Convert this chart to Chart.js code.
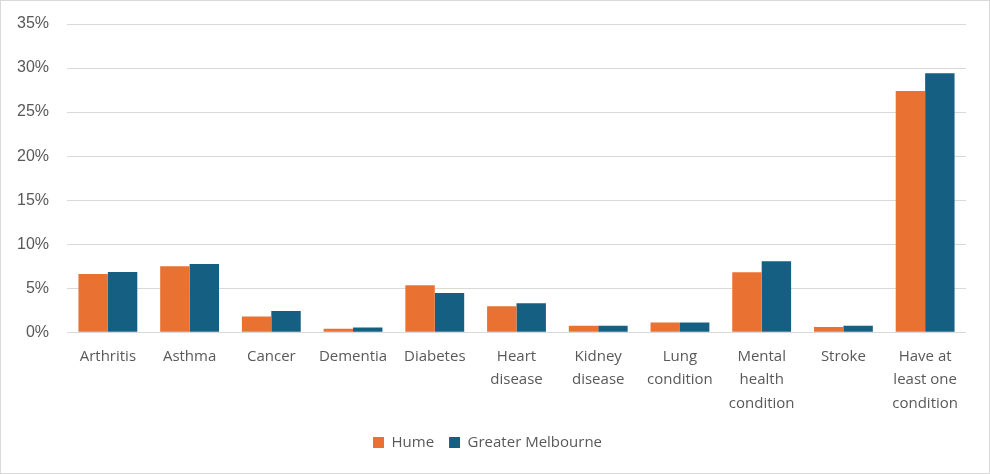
<!DOCTYPE html>
<html>
<head>
<meta charset="utf-8">
<script src="https://cdn.jsdelivr.net/npm/chart.js@4.4.0/dist/chart.umd.min.js"></script>
<style>
  html, body { margin: 0; padding: 0; background: #fff; }
  #wrap { width: 990px; height: 474px; box-sizing: border-box; border: 1px solid #d9d9d9; position: relative; }
  #chart { display: block; }
</style>
</head>
<body>
<div id="wrap"><canvas id="chart" width="988" height="472"></canvas></div>
<script>
// chronic conditions, share of population
var categories = [
    "Arthritis", "Asthma", "Cancer", "Dementia", "Diabetes",
    ["Heart", "disease"], ["Kidney", "disease"], ["Lung", "condition"],
    ["Mental", "health", "condition"], "Stroke", ["Have at", "least one", "condition"]
];
var hume = [6.6, 7.5, 1.8, 0.4, 5.35, 2.95, 0.75, 1.1, 6.8, 0.6, 27.4];
var greaterMelbourne = [6.85, 7.75, 2.4, 0.55, 4.45, 3.3, 0.75, 1.1, 8.05, 0.75, 29.4];
var yTicks = [0, 5, 10, 15, 20, 25, 30, 35];

var txtColor = '#595959';
var labelFont = { family: '"Open Sans", Lato, sans-serif', size: 15, lineHeight: 1.55 };

new Chart(document.getElementById('chart'), {
    type: 'bar',
    data: {
        labels: categories,
        datasets: [
            {
                label: 'Hume',
                data: hume,
                backgroundColor: '#E97132',
                categoryPercentage: 0.72,
                barPercentage: 1
            },
            {
                label: 'Greater Melbourne',
                data: greaterMelbourne,
                backgroundColor: '#156082',
                categoryPercentage: 0.72,
                barPercentage: 1
            }
        ]
    },
    options: {
        responsive: false,
        animation: false,
        layout: { padding: { top: 23, right: 23, left: 8, bottom: 13 } },
        plugins: {
            tooltip: { enabled: false },
            legend: {
                position: 'bottom',
                labels: {
                    boxWidth: 11,
                    boxHeight: 11,
                    color: txtColor,
                    font: { family: '"Open Sans", Lato, sans-serif', size: 15 },
                    padding: 15
                }
            }
        },
        scales: {
            x: {
                grid: { display: false },
                border: { display: false },
                ticks: {
                    color: txtColor,
                    font: labelFont,
                    maxRotation: 0,
                    autoSkip: false,
                    padding: 5
                }
            },
            y: {
                min: 0,
                max: 35,
                afterBuildTicks: function(axis) {
                    axis.ticks = yTicks.map(function(v){ return { value: v }; });
                },
                afterFit: function(axis) {
                    axis.width = 58;
                    // tick padding shouldn't push the plot top down
                    axis.paddingTop = 0;
                    axis.paddingBottom = 0;
                },
                grid: { color: '#d9d9d9', lineWidth: 1, drawTicks: false },
                border: { display: false },
                ticks: {
                    color: txtColor,
                    font: { family: '"Liberation Sans", Arial, sans-serif', size: 16 },
                    padding: 18,
                    callback: function(v){ return v + '%'; }
                }
            }
        }
    }
});
</script>
</body>
</html>
